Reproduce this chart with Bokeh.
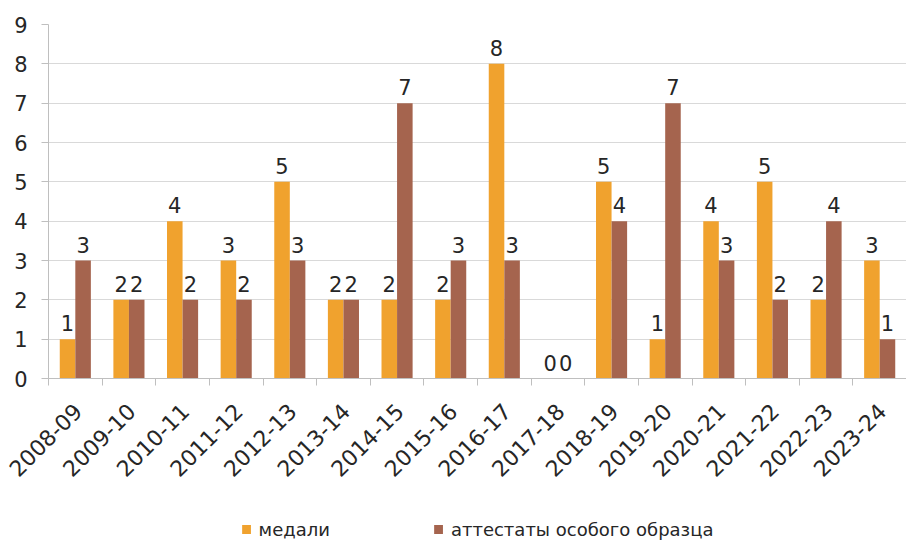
import math
from bokeh.plotting import figure
from bokeh.layouts import column
from bokeh.models import Range1d, FixedTicker, Legend, LegendItem, ColumnDataSource
from bokeh.core.properties import value
from bokeh.embed import file_html
from bokeh.resources import INLINE

years = ["2008-09", "2009-10", "2010-11", "2011-12", "2012-13", "2013-14", "2014-15",
         "2015-16", "2016-17", "2017-18", "2018-19", "2019-20", "2020-21", "2021-22",
         "2022-23", "2023-24"]
medals = [1, 2, 4, 3, 5, 2, 2, 2, 8, 0, 5, 1, 4, 5, 2, 3]
certificates = [3, 2, 2, 2, 3, 2, 7, 3, 3, 0, 4, 7, 3, 2, 4, 1]
series_names = ["медали", "аттестаты особого образца"]
y_ticks = list(range(0, 10))

ORANGE = "#F0A22E"
BROWN = "#A5644E"
FONT = "DejaVu Sans"
TXT = "#262626"
W = 906

n = len(years)
bw = 0.29
centers = [i + 0.5 for i in range(n)]
src = ColumnDataSource(dict(
    xm=[c - bw / 2 for c in centers],
    xa=[c + bw / 2 for c in centers],
    m=medals, a=certificates,
    ml=[str(v) for v in medals], al=[str(v) for v in certificates],
))

p = figure(width=W, height=517, output_backend="svg", toolbar_location=None,
           x_range=Range1d(0, n), y_range=Range1d(0, 9),
           min_border_left=48, min_border_right=0, min_border_top=24, min_border_bottom=139)
p.outline_line_color = None

rm = p.vbar(x="xm", top="m", width=bw, source=src, fill_color=ORANGE, line_color=None)
ra = p.vbar(x="xa", top="a", width=bw, source=src, fill_color=BROWN, line_color=None)

for xcol, ycol, lcol in (("xm", "m", "ml"), ("xa", "a", "al")):
    p.text(x=xcol, y=ycol, text=lcol, source=src, text_align="center", text_baseline="bottom",
           y_offset=-8, text_font=value(FONT), text_font_size="21px", text_color=TXT)

# axes
p.yaxis.ticker = FixedTicker(ticks=y_ticks)
p.yaxis.axis_line_color = "#BFBFBF"
p.yaxis.major_tick_line_color = "#BFBFBF"
p.yaxis.major_tick_in = 0
p.yaxis.major_tick_out = 7
p.yaxis.minor_tick_line_color = None
p.yaxis.major_label_standoff = 14
p.yaxis.major_label_text_font = FONT
p.yaxis.major_label_text_font_size = "21px"
p.yaxis.major_label_text_color = TXT

label_pos = [c + 0.05 for c in centers]
p.xaxis.ticker = FixedTicker(ticks=label_pos, minor_ticks=list(range(n + 1)))
p.xaxis.major_label_overrides = {c: y for c, y in zip(label_pos, years)}
p.xaxis.major_label_orientation = math.pi / 4
p.xaxis.axis_line_color = "#BFBFBF"
p.xaxis.major_tick_line_color = None
p.xaxis.minor_tick_line_color = "#BFBFBF"
p.xaxis.minor_tick_in = 0
p.xaxis.minor_tick_out = 7
p.xaxis.major_label_standoff = 22
p.xaxis.major_label_text_font = FONT
p.xaxis.major_label_text_font_size = "22px"
p.xaxis.major_label_text_color = TXT

p.xgrid.grid_line_color = None
p.ygrid.grid_line_color = "#D9D9D9"
p.ygrid.ticker = FixedTicker(ticks=y_ticks)

# legend strip (keys taken from zero-height placeholder bars)
q = figure(width=W, height=24, output_backend="svg", toolbar_location=None,
           x_range=Range1d(0, 1), y_range=Range1d(0, 1),
           min_border_left=48, min_border_right=0, min_border_top=0, min_border_bottom=0)
q.outline_line_color = None
q.axis.visible = False
q.grid.grid_line_color = None
lm = q.vbar(x=[0.5], top=[0], bottom=[0], width=0.01, fill_color=ORANGE, line_color=None)
la = q.vbar(x=[0.5], top=[0], bottom=[0], width=0.01, fill_color=BROWN, line_color=None)
legend = Legend(items=[LegendItem(label=series_names[0], renderers=[lm]),
                       LegendItem(label=series_names[1], renderers=[la])],
                orientation="horizontal", location="center",
                padding=0, spacing=103, margin=0,
                glyph_width=11, glyph_height=11, label_standoff=7, label_height=14,
                label_text_font=FONT, label_text_font_size="18px", label_text_color=TXT,
                border_line_color=None, background_fill_alpha=0)
q.add_layout(legend)

layout = column(p, q, spacing=0)
open("out.html", "w").write(file_html(layout, INLINE))
